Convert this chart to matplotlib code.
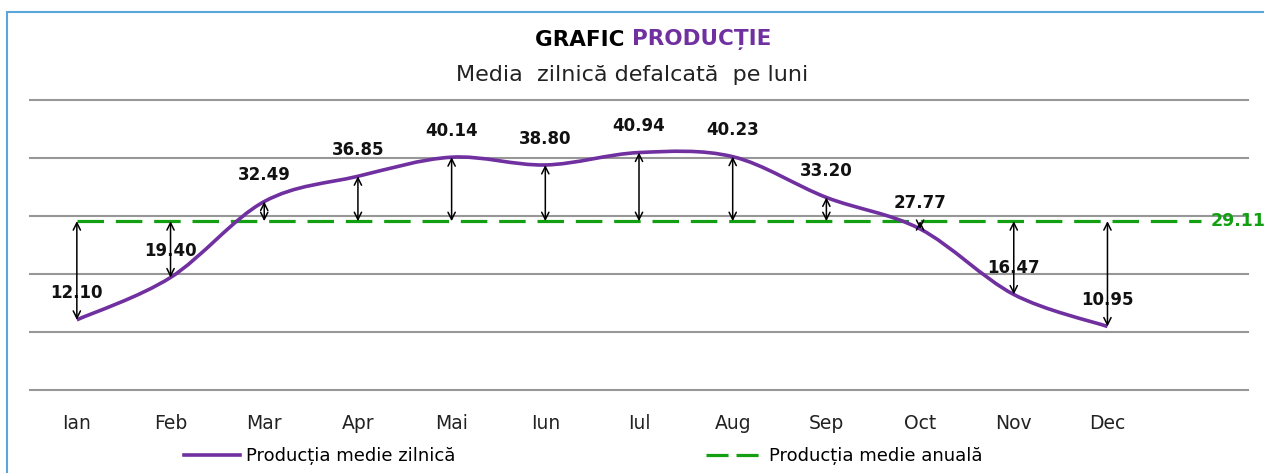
import matplotlib
matplotlib.use('Agg')

import matplotlib.pyplot as plt
from matplotlib.path import Path
from matplotlib.patches import PathPatch, Rectangle
from matplotlib.lines import Line2D
import numpy as np

months = ['Ian', 'Feb', 'Mar', 'Apr', 'Mai', 'Iun', 'Iul', 'Aug', 'Sep', 'Oct', 'Nov', 'Dec']
daily_avg = [12.10, 19.40, 32.49, 36.85, 40.14, 38.80, 40.94, 40.23, 33.20, 27.77, 16.47, 10.95]
annual_avg = 29.11
y_ticks = [0, 10, 20, 30, 40, 50]

PURPLE = '#7030a0'
GREEN = '#12a012'
GRID = '#979797'

W, H = 1264, 473
fig = plt.figure(figsize=(W / 100, H / 100), dpi=100)

# light blue chart border (cut off at right/bottom like the screenshot)
fig.patches.append(Rectangle((7 / W, -0.1), 1.2, 1 - 12 / H + 0.1, transform=fig.transFigure,
                             fill=False, ec='#5aa5da', lw=1.5))

ax = fig.add_axes([30 / W, 1 - 390 / H, (1248 - 30) / W, 290 / H])
ax.set_xlim(-0.5, 12.5)
ax.set_ylim(0, 50)
for s in ax.spines.values():
    s.set_visible(False)
ax.set_yticks(y_ticks)
ax.yaxis.grid(True, color=GRID, lw=1.5)
for gl in ax.get_ygridlines():
    gl.set_clip_on(False)
ax.set_axisbelow(True)
ax.tick_params(left=False, bottom=False, labelleft=False)
ax.set_xticks(range(len(months)))
ax.set_xticklabels(months, fontsize=13.5, color='#222222')
ax.tick_params(axis='x', pad=14)

x = np.arange(len(months))
y = np.array(daily_avg)

# Excel-like smoothed line: cubic bezier segments (catmull-rom style control points)
px = np.r_[x[0], x, x[-1]]
py = np.r_[y[0], y, y[-1]]
verts = [(x[0], y[0])]
codes = [Path.MOVETO]
for i in range(1, len(x)):
    p0 = np.array([px[i - 1], py[i - 1]])
    p1 = np.array([px[i], py[i]])
    p2 = np.array([px[i + 1], py[i + 1]])
    p3 = np.array([px[i + 2], py[i + 2]])
    c1 = p1 + (p2 - p0) / 6
    c2 = p2 - (p3 - p1) / 6
    verts += [tuple(c1), tuple(c2), tuple(p2)]
    codes += [Path.CURVE4] * 3
ax.add_patch(PathPatch(Path(verts, codes), fill=False, ec=PURPLE, lw=2.6, zorder=3))

# annual average dashed line, runs to the extra slot where its label sits
ax.plot([0, 12], [annual_avg, annual_avg], color=GREEN, lw=2.3, dashes=(8.3, 3.7), zorder=2)
ax.annotate(f'{annual_avg:.2f}', xy=(12, annual_avg), xytext=(7, 0), textcoords='offset points',
            ha='left', va='center', color=GREEN, fontsize=12.5, fontweight='bold', annotation_clip=False)

# difference arrows + value labels
for xi, yi in zip(x, y):
    ax.annotate('', xy=(xi, yi), xytext=(xi, annual_avg),
                arrowprops=dict(arrowstyle='<->', color='black', lw=1.1,
                                shrinkA=0, shrinkB=0, mutation_scale=13), zorder=4)
    ax.annotate(f'{yi:.2f}', xy=(xi, yi), xytext=(0, 19), textcoords='offset points',
                ha='center', va='center', fontsize=12, fontweight='bold', color='#111111')

# title
fig.text(0.5, 1 - 40 / H, 'GRAFIC ', ha='right', va='center', fontsize=15.5, fontweight='bold')
fig.text(0.5, 1 - 40 / H, 'PRODUCȚIE', ha='left', va='center', fontsize=15.5, fontweight='bold', color=PURPLE)
fig.text(0.5, 1 - 75 / H, 'Media  zilnică defalcată  pe luni', ha='center', va='center', fontsize=16,
         color='#222222')

# legend
handles = [Line2D([], [], color=PURPLE, lw=2.6),
           Line2D([], [], color=GREEN, lw=2.3, dashes=(6.9, 2.5))]
fig.legend(handles, ['Producția medie zilnică', 'Producția medie anuală'], loc='center',
           bbox_to_anchor=(583 / W, 1 - 456 / H), ncol=2, frameon=False, fontsize=13,
           handlelength=3.1, handletextpad=0.35, columnspacing=13.9, borderpad=0)

fig.savefig('out.png', dpi=100)
